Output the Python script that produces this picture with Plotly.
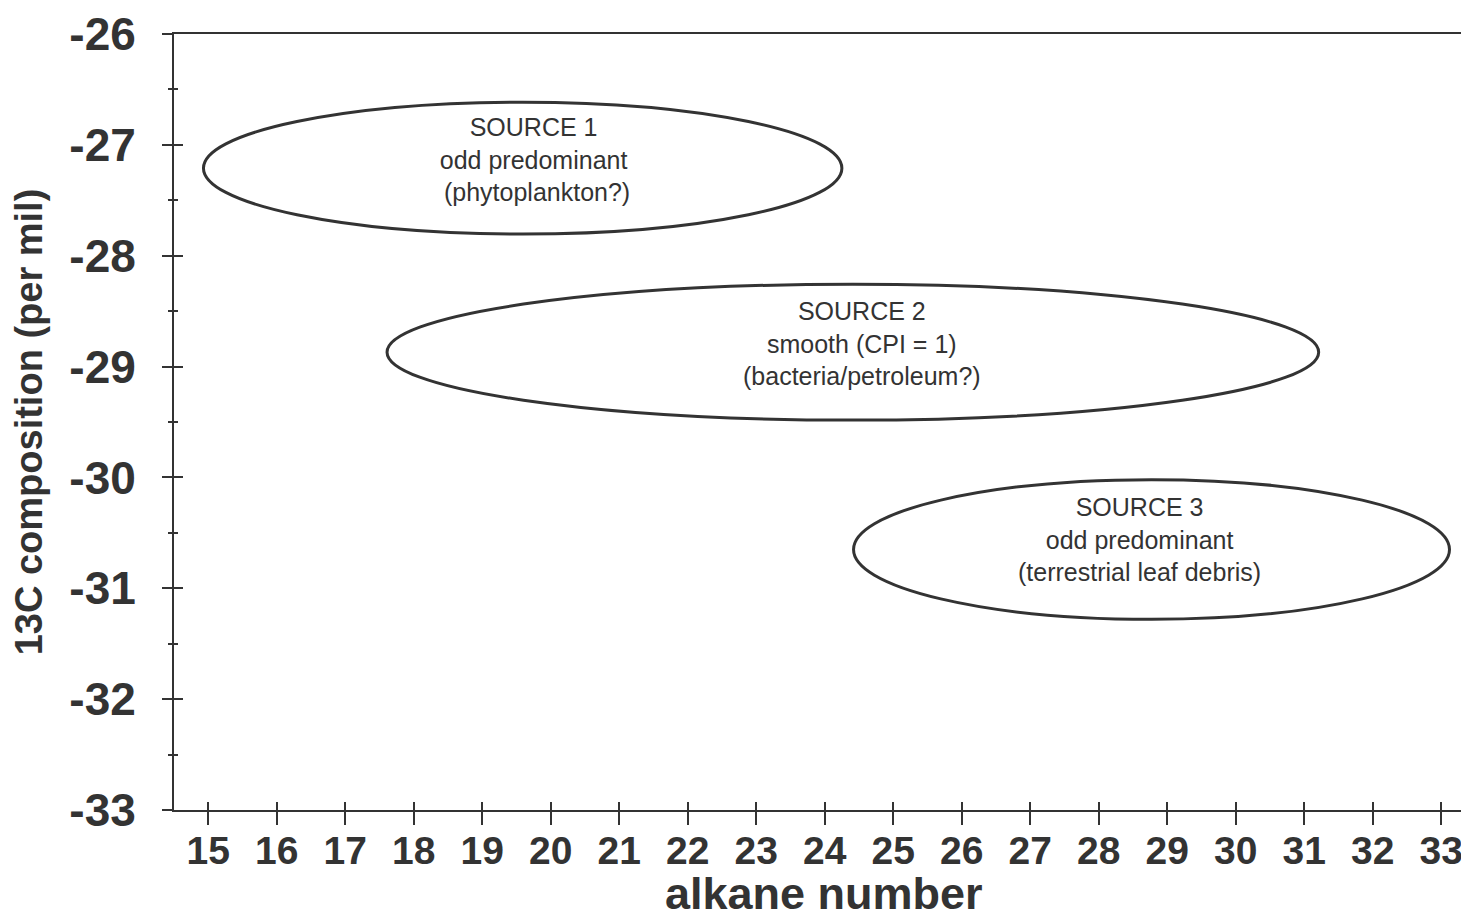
import plotly.graph_objects as go

# Data: ellipse regions (center x, center y, half-width, half-height)
sources = ["SOURCE 1", "SOURCE 2", "SOURCE 3"]
center_x = [19.59, 24.41, 28.77]
center_y = [-27.21, -28.87, -30.65]
half_w = [4.66, 6.80, 4.35]
half_h = [0.595, 0.613, 0.63]
labels = [
    "SOURCE 1<br>odd predominant<br> (phytoplankton?)",
    "SOURCE 2<br>smooth (CPI = 1)<br>(bacteria/petroleum?)",
    "SOURCE 3<br>odd predominant<br>(terrestrial leaf debris)",
]
label_x = [19.75, 24.55, 28.6]
label_y = [-27.13, -28.79, -30.56]

x_ticks = list(range(15, 34))
y_ticks = list(range(-33, -25))
y_ticktext = ["-33", "-32", "-31", "-30", "-29", "-28", "-27", "-26"]

INK = "#333333"
FONT = "Liberation Sans, Arial"

fig = go.Figure()
fig.add_trace(go.Scatter(x=[None], y=[None], showlegend=False, hoverinfo="skip"))
fig.add_trace(go.Scatter(x=[None], y=[None], xaxis="x2", yaxis="y2", showlegend=False, hoverinfo="skip"))

for cx, cy, hw, hh in zip(center_x, center_y, half_w, half_h):
    fig.add_shape(type="circle", xref="x", yref="y",
                  x0=cx - hw, x1=cx + hw, y0=cy - hh, y1=cy + hh,
                  line=dict(color=INK, width=3), fillcolor="rgba(0,0,0,0)")

for lx, ly, t in zip(label_x, label_y, labels):
    fig.add_annotation(x=lx, y=ly, xref="x", yref="y", text=t, showarrow=False,
                       font=dict(family=FONT, size=25, color=INK),
                       align="center")

# x-axis title placed as paper annotation
fig.add_annotation(x=0.502, y=-0.108, xref="paper", yref="paper", text="alkane number",
                   showarrow=False, xanchor="center", yanchor="middle",
                   font=dict(family=FONT, size=45, color=INK, weight="bold"))

xr = [14.5, 33.39]
yr = [-33, -26]

fig.update_layout(
    width=1461, height=911,
    margin=dict(l=166, r=1, t=26, b=109),
    plot_bgcolor="white", paper_bgcolor="white",
    showlegend=False,
    xaxis=dict(range=xr, tickvals=x_ticks, ticks="outside", ticklen=13, tickwidth=1.5,
               tickcolor=INK, showline=True, linecolor=INK, linewidth=2, mirror=True,
               showgrid=False, zeroline=False, automargin=False, ticklabelstandoff=-8,
               tickfont=dict(family=FONT, size=39, color=INK, weight="bold")),
    yaxis=dict(range=yr, tickvals=y_ticks, ticktext=y_ticktext, ticks="outside", ticklen=10,
               tickwidth=1.5, tickcolor=INK, showline=True, linecolor=INK, linewidth=2,
               showgrid=False, zeroline=False, ticklabelstandoff=17, automargin=False,
               minor=dict(dtick=0.5, ticks="outside", ticklen=4, tickcolor=INK, tickwidth=1.5),
               tickfont=dict(family=FONT, size=46, color=INK, weight="bold"),
               title=dict(text="13C composition (per mil)", standoff=15,
                          font=dict(family=FONT, size=38, color=INK, weight="bold"))),
    xaxis2=dict(range=xr, overlaying="x", anchor="y2", side="bottom", tickvals=x_ticks,
                ticks="inside", ticklen=8, tickwidth=1.5, tickcolor=INK, automargin=False,
                showticklabels=False, showgrid=False, zeroline=False, showline=False),
    yaxis2=dict(range=yr, overlaying="y", anchor="x2", side="left", tickvals=y_ticks,
                ticks="inside", ticklen=9, tickwidth=1.5, tickcolor=INK, automargin=False,
                minor=dict(dtick=0.5, ticks="inside", ticklen=4, tickcolor=INK, tickwidth=1.5),
                showticklabels=False, showgrid=False, zeroline=False, showline=False),
)

fig.write_html("out.html")
